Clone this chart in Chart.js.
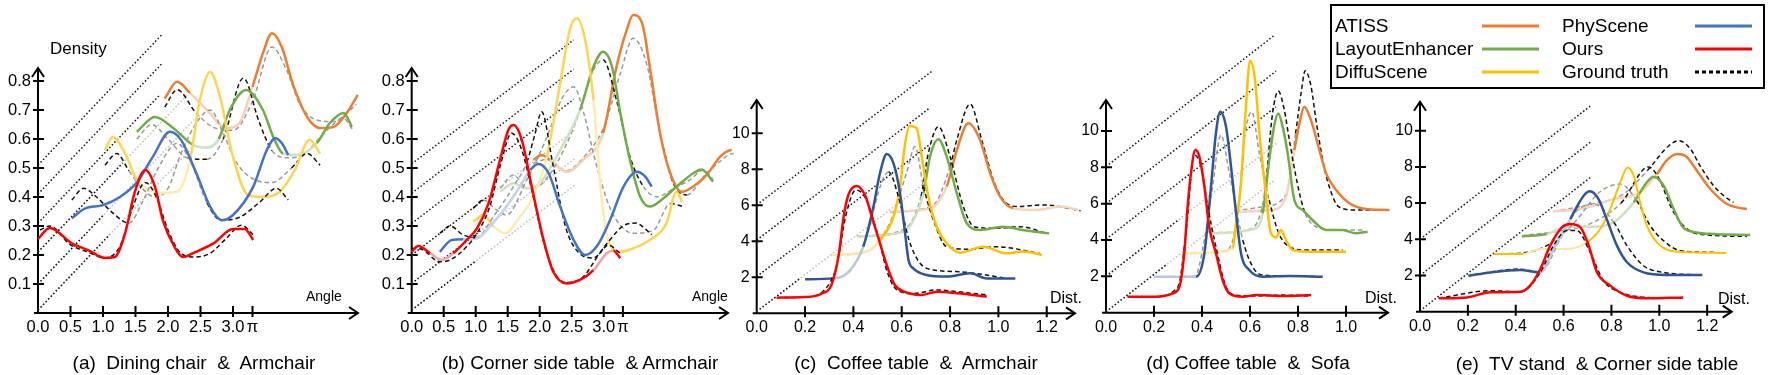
<!DOCTYPE html>
<html><head><meta charset="utf-8">
<script src="https://cdn.jsdelivr.net/npm/chart.js@4.4.1/dist/chart.umd.min.js"></script>
<style>
html,body{margin:0;padding:0;background:#fff;}
body{width:1771px;height:375px;position:relative;overflow:hidden;font-family:"Liberation Sans",Arial,Helvetica,sans-serif;color:#000;}
canvas{position:absolute;top:0;}
.t{position:absolute;white-space:pre;line-height:1;}
.title{font-size:19px;transform:translate(-50%,-50%);}
.lab{transform:translateY(-50%);}
#legend{position:absolute;left:1330px;top:4px;width:431px;height:81px;border:2px solid #000;box-sizing:content-box;}
.lt{position:absolute;font-size:19px;white-space:pre;line-height:1;transform:translateY(-50%);}
.ll{position:absolute;height:3px;transform:translateY(-50%);}
</style>
</head><body>
<script>
// ---------------- DATA ----------------
// tick values / labels
const abXTicks = [0, 0.5, 1, 1.5, 2, 2.5, 3, 3.3];
const abXLabels = ['0.0', '0.5', '1.0', '1.5', '2.0', '2.5', '3.0', 'π'];
const abYTicks = [0.1, 0.2, 0.3, 0.4, 0.5, 0.6, 0.7, 0.8];
const abYLabels = ['0.1', '0.2', '0.3', '0.4', '0.5', '0.6', '0.7', '0.8'];
const ceXTicks = [0, 0.2, 0.4, 0.6, 0.8, 1.0, 1.2];
const ceXLabels = ['0.0', '0.2', '0.4', '0.6', '0.8', '1.0', '1.2'];
const dXTicks = [0, 0.2, 0.4, 0.6, 0.8, 1.0];
const dXLabels = ['0.0', '0.2', '0.4', '0.6', '0.8', '1.0'];
const cdeYTicks = [2, 4, 6, 8, 10];
const cdeYLabels = ['2', '4', '6', '8', '10'];

const methods = ['Ours', 'PhyScene', 'DiffuScene', 'LayoutEnhancer', 'ATISS'];

// (a) Dining chair & Armchair  [angle, density]
const a_ours = [[0,0.255],[0.18,0.293],[0.52,0.24],[0.77,0.217],[1.03,0.19],[1.18,0.193],[1.34,0.275],[1.49,0.418],[1.65,0.493],[1.8,0.435],[1.92,0.32],[2.1,0.228],[2.23,0.193],[2.42,0.21],[2.7,0.24],[3.0,0.29],[3.18,0.29],[3.31,0.252]];
const a_oursGT = [[0.03,0.286],[0.18,0.3],[0.5,0.235],[0.77,0.21],[1.02,0.19],[1.26,0.23],[1.46,0.366],[1.65,0.45],[1.82,0.4],[2.0,0.286],[2.18,0.21],[2.39,0.193],[2.65,0.206],[2.9,0.258],[3.13,0.303],[3.31,0.27]];
const a_phy = [[0.52,0.327],[0.72,0.36],[1.0,0.372],[1.26,0.4],[1.52,0.45],[1.77,0.54],[2.03,0.625],[2.2,0.597],[2.44,0.48],[2.65,0.366],[2.83,0.32],[3.0,0.338],[3.31,0.435],[3.52,0.562],[3.65,0.603],[3.75,0.586],[3.85,0.545]];
const a_phyGT = [[0.52,0.39],[0.7,0.43],[0.9,0.4],[1.15,0.345],[1.4,0.31],[1.6,0.38],[1.85,0.5],[2.14,0.585],[2.35,0.52],[2.6,0.38],[2.82,0.32],[3.1,0.33],[3.4,0.38],[3.67,0.43],[3.85,0.39]];
const a_diffu = [[1.03,0.562],[1.15,0.607],[1.34,0.55],[1.52,0.458],[1.7,0.424],[1.88,0.414],[2.14,0.418],[2.34,0.528],[2.49,0.734],[2.65,0.831],[2.8,0.745],[3.0,0.538],[3.23,0.407],[3.46,0.4],[3.72,0.418],[3.95,0.493],[4.18,0.597],[4.34,0.55]];
const a_diffuGT = [[1.03,0.51],[1.21,0.55],[1.4,0.49],[1.6,0.43],[1.8,0.4],[2.0,0.43],[2.2,0.55],[2.45,0.66],[2.65,0.7],[2.85,0.62],[3.05,0.52],[3.33,0.46],[3.6,0.45],[3.9,0.5],[4.14,0.55],[4.34,0.51]];
const a_layout = [[1.52,0.625],[1.8,0.676],[2.08,0.638],[2.38,0.58],[2.6,0.57],[2.78,0.6],[2.95,0.7],[3.2,0.769],[3.46,0.7],[3.62,0.607],[3.77,0.55],[3.98,0.545],[4.29,0.586],[4.49,0.655],[4.7,0.69],[4.83,0.642]];
const a_layoutGT = [[1.52,0.6],[1.75,0.65],[2.0,0.6],[2.3,0.535],[2.6,0.53],[2.85,0.6],[3.16,0.81],[3.4,0.66],[3.6,0.56],[3.85,0.535],[4.1,0.55],[4.4,0.62],[4.7,0.67],[4.85,0.63]];
const a_atiss = [[1.95,0.74],[2.14,0.797],[2.34,0.758],[2.6,0.7],[2.9,0.638],[3.1,0.655],[3.3,0.78],[3.46,0.896],[3.6,0.965],[3.75,0.917],[3.92,0.79],[4.14,0.676],[4.34,0.638],[4.54,0.641],[4.75,0.69],[4.92,0.752]];
const a_atissGT = [[1.95,0.71],[2.14,0.77],[2.43,0.69],[2.7,0.64],[3.0,0.63],[3.3,0.73],[3.6,0.917],[3.82,0.84],[4.03,0.72],[4.28,0.666],[4.54,0.66],[4.8,0.7],[4.9,0.72]];
const a_floorStart = [0.01, 0.1, 0.21, 0.31, 0.41, 0.51];
const a_floorBlackEnd = [1.1, 1.0, 1.3, 1.88, 1.91, 1.91];
const a_floorGrayEnd = [2.4, 2.4, 2.3, 1.88, 1.91, 1.91];

// (b) Corner side table & Armchair
const b_ours = [[0,0.211],[0.1,0.231],[0.29,0.206],[0.47,0.183],[0.65,0.206],[0.86,0.252],[1.02,0.292],[1.2,0.378],[1.38,0.528],[1.51,0.631],[1.59,0.648],[1.72,0.597],[1.875,0.436],[2.06,0.252],[2.21,0.143],[2.42,0.102],[2.63,0.114],[2.84,0.148],[3.05,0.206],[3.15,0.215],[3.26,0.189]];
const b_oursGT = [[0,0.223],[0.15,0.22],[0.44,0.177],[0.6,0.183],[0.86,0.229],[1.02,0.275],[1.22,0.367],[1.38,0.505],[1.56,0.62],[1.72,0.562],[1.9,0.401],[2.08,0.229],[2.27,0.125],[2.42,0.105],[2.68,0.125],[2.94,0.206],[3.07,0.234],[3.26,0.206]];
const b_phy = [[0.44,0.211],[0.625,0.252],[0.81,0.254],[1.02,0.257],[1.22,0.298],[1.48,0.367],[1.69,0.436],[1.85,0.493],[1.98,0.514],[2.14,0.482],[2.32,0.367],[2.53,0.252],[2.71,0.2],[2.89,0.229],[3.1,0.321],[3.31,0.436],[3.52,0.487],[3.65,0.47],[3.75,0.436]];
const b_phyGT = [[0.44,0.275],[0.6,0.3],[0.8,0.27],[1.0,0.26],[1.3,0.34],[1.6,0.44],[1.8,0.52],[1.93,0.62],[2.03,0.694],[2.2,0.52],[2.4,0.3],[2.6,0.21],[2.84,0.19],[3.05,0.24],[3.3,0.3],[3.5,0.31],[3.65,0.29],[3.75,0.27]];
const b_diffu = [[0.96,0.315],[1.12,0.338],[1.28,0.298],[1.46,0.275],[1.69,0.332],[1.9,0.401],[2.11,0.539],[2.32,0.792],[2.47,0.976],[2.58,1.016],[2.71,0.941],[2.84,0.734],[2.97,0.39],[3.07,0.252],[3.26,0.211],[3.46,0.223],[3.72,0.252],[3.98,0.309],[4.14,0.418],[4.22,0.384]];
const b_diffuGT = [[0.96,0.361],[1.12,0.39],[1.3,0.36],[1.48,0.338],[1.8,0.46],[2.1,0.6],[2.35,0.74],[2.53,0.78],[2.7,0.68],[2.84,0.55],[3.05,0.39],[3.2,0.32],[3.46,0.275],[3.78,0.286],[4.04,0.378],[4.24,0.367]];
const b_layout = [[1.38,0.418],[1.59,0.447],[1.8,0.43],[2.0,0.447],[2.32,0.562],[2.63,0.7],[2.84,0.849],[2.99,0.901],[3.13,0.849],[3.26,0.69],[3.41,0.528],[3.57,0.401],[3.72,0.367],[3.93,0.395],[4.14,0.436],[4.4,0.482],[4.53,0.495],[4.71,0.453]];
const b_layoutGT = [[1.38,0.43],[1.59,0.476],[1.8,0.43],[2.0,0.44],[2.3,0.53],[2.6,0.68],[2.8,0.82],[2.99,0.873],[3.2,0.734],[3.41,0.54],[3.62,0.436],[3.83,0.401],[4.1,0.43],[4.35,0.46],[4.56,0.493],[4.71,0.46]];
const b_atiss = [[1.9,0.528],[2.03,0.545],[2.16,0.528],[2.42,0.487],[2.68,0.528],[2.99,0.62],[3.2,0.849],[3.36,0.976],[3.46,1.028],[3.6,0.999],[3.72,0.849],[3.88,0.62],[4.04,0.482],[4.22,0.418],[4.4,0.436],[4.61,0.476],[4.82,0.539],[5.0,0.562],[5.16,0.533]];
const b_atissGT = [[1.9,0.516],[2.1,0.53],[2.4,0.49],[2.7,0.54],[3.0,0.64],[3.26,0.826],[3.46,0.947],[3.67,0.86],[3.88,0.62],[4.09,0.447],[4.3,0.407],[4.56,0.47],[4.8,0.52],[5.03,0.55],[5.15,0.52]];
const b_floorStart = [0.01, 0.102, 0.2, 0.309, 0.413, 0.514];
const b_floorBlackEnd = [1.0, 1.1, 1.2, 2.53, 2.53, 2.53];
const b_floorGrayEnd = [2.55, 2.55, 2.55, 2.53, 2.53, 2.53];

// (c) Coffee table & Armchair  [distance, density]
const c_ours = [[0.083,0.87],[0.2,0.9],[0.27,1.1],[0.31,1.6],[0.34,3.3],[0.36,5.4],[0.38,6.6],[0.414,7.07],[0.45,6.5],[0.48,5.2],[0.51,3.9],[0.54,2.6],[0.57,1.6],[0.61,1.2],[0.68,1.02],[0.745,1.2],[0.83,1.11],[0.952,0.93]];
const c_oursGT = [[0.083,0.87],[0.2,0.9],[0.28,1.3],[0.33,2.6],[0.37,5.5],[0.41,6.85],[0.45,6.4],[0.5,4.4],[0.54,2.3],[0.58,1.3],[0.65,1.1],[0.745,1.3],[0.83,1.2],[0.952,1.02]];
const c_phy = [[0.2,1.89],[0.317,1.94],[0.38,2.3],[0.441,3.7],[0.483,5.93],[0.51,7.78],[0.538,8.85],[0.566,8.33],[0.593,6.67],[0.614,4.44],[0.628,2.96],[0.648,2.5],[0.703,2.13],[0.786,2.04],[0.883,2.22],[0.952,1.94],[1.07,1.94]];
const c_phyGT = [[0.2,1.89],[0.32,1.94],[0.4,2.6],[0.46,4.5],[0.51,7.0],[0.545,7.87],[0.59,6.3],[0.63,4.07],[0.676,2.78],[0.73,2.41],[0.84,2.31],[0.95,2.13],[1.034,1.94]];
const c_diffu = [[0.31,3.24],[0.455,3.43],[0.51,4.07],[0.566,5.37],[0.593,7.04],[0.614,9.44],[0.634,10.41],[0.662,10.28],[0.683,8.7],[0.71,6.48],[0.745,4.81],[0.786,3.89],[0.841,3.37],[0.938,3.7],[1.034,3.33],[1.1,3.43],[1.18,3.24]];
const c_diffuGT = [[0.31,3.24],[0.45,3.4],[0.55,5.0],[0.62,7.8],[0.655,9.26],[0.69,7.04],[0.731,5.19],[0.786,3.7],[0.883,3.56],[0.99,3.7],[1.17,3.33]];
const c_layout = [[0.414,4.26],[0.607,4.54],[0.65,5.2],[0.69,6.67],[0.717,8.7],[0.752,9.67],[0.786,8.7],[0.828,6.67],[0.869,5.0],[0.924,4.63],[1.02,4.81],[1.1,4.63],[1.21,4.44]];
const c_layoutGT = [[0.414,4.3],[0.6,4.6],[0.68,6.5],[0.71,8.89],[0.752,10.37],[0.8,8.7],[0.855,5.93],[0.9,4.81],[0.99,4.72],[1.09,4.81],[1.2,4.44]];
const c_atiss = [[0.552,5.65],[0.717,5.83],[0.786,7.04],[0.828,9.07],[0.876,10.56],[0.924,9.63],[0.966,7.78],[1.007,6.48],[1.062,5.83],[1.16,5.74],[1.255,5.93],[1.33,5.74]];
const c_atissGT = [[0.552,5.6],[0.73,6.02],[0.8,8.15],[0.828,9.63],[0.883,11.63],[0.931,9.63],[0.979,7.41],[1.02,6.3],[1.076,5.93],[1.186,6.02],[1.34,5.7]];
const c_floorStart = [0.1, 2.04, 4.07, 6.02];
const c_floorBlackEnd = [0.18, 0.717, 0.717, 0.724];
const c_floorGrayEnd = [0.7, 0.717, 0.717, 0.724];

// (d) Coffee table & Sofa
const d_ours = [[0.09,0.88],[0.208,0.88],[0.278,1.06],[0.306,1.43],[0.326,3.27],[0.34,5.83],[0.354,7.67],[0.372,8.95],[0.389,8.59],[0.41,6.94],[0.43,4.73],[0.458,3.27],[0.486,1.8],[0.514,1.06],[0.57,0.88],[0.625,0.97],[0.736,0.92],[0.854,0.97]];
const d_oursGT = [[0.09,0.88],[0.2,0.88],[0.3,1.43],[0.333,4.37],[0.368,8.68],[0.396,8.04],[0.424,5.83],[0.458,3.63],[0.5,1.43],[0.54,0.97],[0.62,0.92],[0.74,0.97],[0.854,0.92]];
const d_phy = [[0.201,1.98],[0.375,1.98],[0.41,3.27],[0.4375,6.94],[0.458,9.87],[0.476,11.06],[0.5,10.24],[0.521,8.04],[0.542,5.47],[0.5625,3.27],[0.597,2.35],[0.653,1.98],[0.764,2.02],[0.903,1.98]];
const d_phyGT = [[0.201,1.98],[0.37,2.0],[0.41,4.0],[0.444,6.94],[0.479,9.78],[0.514,7.67],[0.57,4.0],[0.611,2.53],[0.653,2.07],[0.76,2.02],[0.889,1.98]];
const d_diffu = [[0.326,3.27],[0.43,3.3],[0.528,3.54],[0.54,4.73],[0.5625,7.12],[0.583,11.34],[0.6,13.87],[0.621,12.8],[0.639,9.87],[0.66,7.3],[0.6875,4.37],[0.708,4.15],[0.729,4.55],[0.75,4.0],[0.778,3.45],[0.847,3.36],[1.0,3.36]];
const d_diffuGT = [[0.326,3.27],[0.5,3.4],[0.55,5.5],[0.576,9.5],[0.607,11.06],[0.639,8.77],[0.68,6.2],[0.72,4.37],[0.764,3.63],[0.83,3.45],[0.986,3.45]];
const d_layout = [[0.4375,4.37],[0.625,4.64],[0.653,5.47],[0.68,8.4],[0.7,10.24],[0.718,10.97],[0.736,10.24],[0.757,8.77],[0.785,6.2],[0.82,5.65],[0.86,5.1],[0.917,4.55],[0.986,4.55],[1.04,4.37],[1.09,4.46]];
const d_layoutGT = [[0.4375,4.4],[0.6,4.6],[0.66,6.5],[0.694,10.97],[0.718,12.2],[0.743,11.15],[0.764,9.5],[0.8,6.94],[0.83,5.47],[0.875,4.73],[0.958,4.55],[1.08,4.55]];
const d_atiss = [[0.54,5.56],[0.6875,5.65],[0.75,6.39],[0.785,8.95],[0.806,10.42],[0.826,11.34],[0.854,10.6],[0.889,8.95],[0.917,7.67],[0.958,6.76],[1.014,6.02],[1.07,5.74],[1.18,5.65]];
const d_atissGT = [[0.54,5.6],[0.653,5.83],[0.75,6.5],[0.79,9.87],[0.813,12.1],[0.83,13.32],[0.854,12.47],[0.875,10.6],[0.903,8.4],[0.93,6.94],[0.97,5.83],[1.04,5.65],[1.18,5.65]];
const d_floorStart = [0.05, 2.0, 4.04, 6.0, 8.04];
const d_floorBlackEnd = [0.25, 0.3, 0.708, 0.708, 0.701];
const d_floorGrayEnd = [0.7, 0.71, 0.708, 0.708, 0.701];

// (e) TV stand & Corner side table
const e_ours = [[0.078,0.74],[0.196,0.79],[0.294,1.07],[0.419,1.1],[0.46,1.44],[0.503,2.36],[0.544,3.65],[0.593,4.66],[0.628,4.84],[0.67,4.66],[0.705,3.65],[0.74,2.17],[0.795,1.44],[0.865,0.88],[0.948,0.74],[1.1,0.79]];
const e_oursGT = [[0.078,0.74],[0.294,1.16],[0.419,1.1],[0.503,2.17],[0.558,3.65],[0.614,4.48],[0.656,4.48],[0.711,3.28],[0.767,1.71],[0.837,1.07],[0.948,0.79],[1.1,0.74]];
const e_phy = [[0.203,1.99],[0.294,2.17],[0.419,2.3],[0.503,2.17],[0.56,3.5],[0.628,5.12],[0.684,6.41],[0.71,6.65],[0.746,6.22],[0.78,5.12],[0.823,3.65],[0.865,2.73],[0.934,2.17],[1.03,2.03],[1.18,2.03]];
const e_phyGT = [[0.203,1.99],[0.419,2.36],[0.503,2.2],[0.586,4.01],[0.65,5.5],[0.726,5.95],[0.81,4.94],[0.865,3.65],[0.934,2.54],[1.018,2.17],[1.17,2.03]];
const e_diffu = [[0.308,3.19],[0.433,3.19],[0.503,3.46],[0.614,3.46],[0.698,3.83],[0.753,4.57],[0.795,5.67],[0.837,7.15],[0.868,7.97],[0.893,7.51],[0.92,6.04],[0.948,4.75],[0.99,3.83],[1.046,3.37],[1.13,3.28],[1.28,3.24]];
const e_diffuGT = [[0.308,3.19],[0.433,3.25],[0.55,3.8],[0.65,5.0],[0.75,6.6],[0.837,7.05],[0.906,6.13],[0.962,4.75],[1.018,3.92],[1.088,3.37],[1.227,3.28]];
const e_layout = [[0.426,4.16],[0.53,4.29],[0.614,4.7],[0.726,4.7],[0.81,4.94],[0.893,6.04],[0.948,7.15],[0.976,7.46],[1.018,6.96],[1.06,5.67],[1.1,4.66],[1.157,4.38],[1.227,4.29],[1.38,4.24]];
const e_layoutGT = [[0.426,4.2],[0.55,4.4],[0.7,4.8],[0.84,6.0],[0.955,8.0],[1.0,7.33],[1.046,5.86],[1.088,4.94],[1.16,4.3],[1.366,4.16]];
const e_atiss = [[0.558,5.54],[0.67,5.67],[0.81,6.22],[0.92,6.59],[0.99,7.6],[1.03,8.34],[1.074,8.71],[1.11,8.6],[1.157,7.79],[1.213,6.78],[1.283,5.95],[1.366,5.67],[1.457,5.58]];
const e_atissGT = [[0.558,5.54],[0.7,5.9],[0.85,6.5],[0.95,7.8],[1.04,9.17],[1.08,9.45],[1.13,9.0],[1.17,8.07],[1.227,6.96],[1.31,6.04],[1.457,5.58]];
const e_floorStart = [0.05, 2.0, 4.0];
const e_floorBlackEnd = [0.712, 0.712, 0.712];
const e_floorGrayEnd = [0.712, 0.712, 0.712];

// ---------------- STYLE ----------------
Chart.defaults.font.family = '"Liberation Sans", Arial, Helvetica, sans-serif';
Chart.defaults.color = '#000';

const colAB = {Ours:'#FF0000', PhyScene:'#4472C4', DiffuScene:'#FFD54F', LayoutEnhancer:'#70AD47', ATISS:'#ED7D31'};
const paleAB = {Ours:'#F5A3A3', PhyScene:'#C3D3EE', DiffuScene:'#FFEBB0', LayoutEnhancer:'#CDE3BF', ATISS:'#F8CFB3'};
const colCDE = {Ours:'#FF0000', PhyScene:'#2F5597', DiffuScene:'#FFC000', LayoutEnhancer:'#70AD47', ATISS:'#ED7D31'};
const paleCDE = {Ours:'#F5A3A3', PhyScene:'#B9C7E0', DiffuScene:'#FFE8A3', LayoutEnhancer:'#CDE3BF', ATISS:'#F8D3BA'};
const GRAY = '#9a9a9a';

function inR(v, rs){ return rs.some(r => v >= r[0] && v <= r[1]); }
function pts(arr){ return arr.map(p => ({x:p[0], y:p[1]})); }

function curveDS(arr, col, pale, fades, w){
  return {data: pts(arr), borderColor: col, borderWidth: w, pointRadius: 0, fill: false, clip: false,
    cubicInterpolationMode: 'monotone',
    segment: {borderColor: c => inR((c.p0.parsed.x + c.p1.parsed.x)/2, fades) ? pale : col}};
}
function gtDS(arr, blacks){
  return {data: pts(arr), borderColor: '#000', borderWidth: 1.5, borderDash: [4.5, 3], pointRadius: 0, fill: false, clip: false,
    cubicInterpolationMode: 'monotone',
    segment: {borderColor: c => inR((c.p0.parsed.x + c.p1.parsed.x)/2, blacks) ? '#111' : GRAY}};
}
function floorDS(y0, x1, slope, col){
  return {data: [{x:0, y:y0}, {x:x1, y:y0 + slope*x1}], borderColor: col, borderWidth: 1.5, borderDash: [1.5, 2.2],
    pointRadius: 0, fill: false, clip: false, tension: 0};
}

const axesPlugin = {
  id: 'axesArrows',
  beforeDatasetsDraw(chart){
    const {ctx, chartArea: ca, scales: {x, y}} = chart;
    ctx.save();
    ctx.strokeStyle = '#000'; ctx.lineWidth = 2; ctx.lineCap = 'butt';
    ctx.beginPath();
    ctx.moveTo(ca.left - 4, ca.bottom); ctx.lineTo(ca.right, ca.bottom);
    ctx.moveTo(ca.left, ca.bottom + 1); ctx.lineTo(ca.left, ca.top);
    ctx.stroke();
    ctx.beginPath();
    ctx.moveTo(ca.right - 9, ca.bottom - 6); ctx.lineTo(ca.right, ca.bottom); ctx.lineTo(ca.right - 9, ca.bottom + 6);
    ctx.moveTo(ca.left - 6, ca.top + 9); ctx.lineTo(ca.left, ca.top); ctx.lineTo(ca.left + 6, ca.top + 9);
    ctx.stroke();
    ctx.beginPath();
    x.ticks.forEach(t => { const px = x.getPixelForValue(t.value); if (px > ca.left + 2) { ctx.moveTo(px, ca.bottom - 7); ctx.lineTo(px, ca.bottom + 4); } });
    y.ticks.forEach(t => { const py = y.getPixelForValue(t.value); ctx.moveTo(ca.left - 5, py); ctx.lineTo(ca.left + 6, py); });
    ctx.stroke();
    ctx.restore();
  }
};

const panels = [
  {cl:0, cw:372, axisX:38, axisY:313, xu:65, yu:290, arrowEnd:358, arrowTop:68, fs:16.5, xpad:5,
   xt:abXTicks, xl:abXLabels, yt:abYTicks, yl:abYLabels, col:colAB, pale:paleAB, lw:2.5, slope:0.236,
   floor:[a_floorStart, a_floorBlackEnd, a_floorGrayEnd],
   series:[
     {m:'Ours', d:a_ours, fade:[], gt:a_oursGT, black:[[0,5]]},
     {m:'PhyScene', d:a_phy, fade:[], gt:a_phyGT, black:[[0,1.4],[2.7,4]]},
     {m:'DiffuScene', d:a_diffu, fade:[[1.6,2.3]], gt:a_diffuGT, black:[[1,1.45],[3.9,4.4]]},
     {m:'LayoutEnhancer', d:a_layout, fade:[[2.3,2.85],[3.72,4.15]], gt:a_layoutGT, black:[[2.2,2.7],[2.9,3.62]]},
     {m:'ATISS', d:a_atiss, fade:[[2.45,3.2]], gt:a_atissGT, black:[[1.9,2.3]]}
   ]},
  {cl:340, cw:420, axisX:411.7, axisY:313, xu:64, yu:290, arrowEnd:728, arrowTop:68, fs:16.5, xpad:5,
   xt:abXTicks, xl:abXLabels, yt:abYTicks, yl:abYLabels, col:colAB, pale:paleAB, lw:2.5, slope:0.169,
   floor:[b_floorStart, b_floorBlackEnd, b_floorGrayEnd],
   series:[
     {m:'Ours', d:b_ours, fade:[[0.3,0.56],[2.88,3.1]], gt:b_oursGT, black:[[0,5]]},
     {m:'PhyScene', d:b_phy, fade:[[0.9,1.8]], gt:b_phyGT, black:[[0.4,0.9],[1.85,3.8]]},
     {m:'DiffuScene', d:b_diffu, fade:[[1.25,2.05],[2.9,3.05]], gt:b_diffuGT, black:[[0.9,1.2],[3.95,4.3]]},
     {m:'LayoutEnhancer', d:b_layout, fade:[[1.3,2.72]], gt:b_layoutGT, black:[[2.95,3.6]]},
     {m:'ATISS', d:b_atiss, fade:[[2.2,3.05]], gt:b_atissGT, black:[[3.9,4.3]]}
   ]},
  {cl:700, cw:400, axisX:756.7, axisY:313.3, xu:241.7, yu:18, arrowEnd:1075, arrowTop:100, fs:16, xpad:5,
   xt:ceXTicks, xl:ceXLabels, yt:cdeYTicks, yl:cdeYLabels, col:colCDE, pale:paleCDE, lw:2.5, slope:10.25,
   floor:[c_floorStart, c_floorBlackEnd, c_floorGrayEnd],
   series:[
     {m:'Ours', d:c_ours, fade:[], gt:c_oursGT, black:[[0,2]]},
     {m:'PhyScene', d:c_phy, fade:[[0.3,0.45]], gt:c_phyGT, black:[[0.56,2]]},
     {m:'DiffuScene', d:c_diffu, fade:[[0.32,0.5]], gt:c_diffuGT, black:[[0.7,2]]},
     {m:'LayoutEnhancer', d:c_layout, fade:[[0.41,0.69]], gt:c_layoutGT, black:[[0.68,2]]},
     {m:'ATISS', d:c_atiss, fade:[[0.55,0.8],[1.05,1.3]], gt:c_atissGT, black:[[0.8,2]]}
   ]},
  {cl:1060, cw:360, axisX:1106, axisY:312.7, xu:240, yu:18.17, arrowEnd:1388, arrowTop:100, fs:16, xpad:5,
   xt:dXTicks, xl:dXLabels, yt:cdeYTicks, yl:cdeYLabels, col:colCDE, pale:paleCDE, lw:2.5, slope:10.3,
   floor:[d_floorStart, d_floorBlackEnd, d_floorGrayEnd],
   series:[
     {m:'Ours', d:d_ours, fade:[], gt:d_oursGT, black:[[0,2]]},
     {m:'PhyScene', d:d_phy, fade:[[0.28,0.39]], gt:d_phyGT, black:[[0.55,2]]},
     {m:'DiffuScene', d:d_diffu, fade:[[0.33,0.53]], gt:d_diffuGT, black:[[0.68,2]]},
     {m:'LayoutEnhancer', d:d_layout, fade:[[0.44,0.64]], gt:d_layoutGT, black:[[0.66,0.82]]},
     {m:'ATISS', d:d_atiss, fade:[[0.54,0.77]], gt:d_atissGT, black:[[0.78,2]]}
   ]},
  {cl:1370, cw:401, axisX:1420, axisY:311.7, xu:239.3, yu:18.1, arrowEnd:1731.7, arrowTop:101.7, fs:16, xpad:5,
   xt:ceXTicks, xl:ceXLabels, yt:cdeYTicks, yl:cdeYLabels, col:colCDE, pale:paleCDE, lw:2.5, slope:10.35,
   floor:[e_floorStart, e_floorBlackEnd, e_floorGrayEnd],
   series:[
     {m:'Ours', d:e_ours, fade:[], gt:e_oursGT, black:[[0,2]]},
     {m:'PhyScene', d:e_phy, fade:[[0.5,0.62]], gt:e_phyGT, black:[[0.2,0.45],[0.78,2]]},
     {m:'DiffuScene', d:e_diffu, fade:[[0.44,0.72]], gt:e_diffuGT, black:[[0.3,0.5],[0.88,2]]},
     {m:'LayoutEnhancer', d:e_layout, fade:[[0.55,0.88]], gt:e_layoutGT, black:[[0.88,2]]},
     {m:'ATISS', d:e_atiss, fade:[[0.6,0.97]], gt:e_atissGT, black:[[0.98,2]]}
   ]}
];

const YW = 40, XH = 32;
panels.forEach(p => {
  const cv = document.createElement('canvas');
  cv.width = p.cw; cv.height = 375;
  cv.style.left = p.cl + 'px'; cv.style.width = p.cw + 'px'; cv.style.height = '375px';
  document.body.appendChild(cv);
  const xmax = (p.arrowEnd - p.axisX) / p.xu;
  const ymax = (p.axisY - p.arrowTop) / p.yu;
  const ds = [];
  p.series.forEach(s => {
    ds.push(curveDS(s.d, p.col[s.m], p.pale[s.m], s.fade, (p.cl > 1300 && s.m === 'DiffuScene') ? 2 : p.lw));
    ds.push(gtDS(s.gt, s.black));
  });
  const [fs0, fb, fg] = p.floor;
  fs0.forEach((y0, i) => {
    ds.push(floorDS(y0, fb[i], p.slope, '#111'));
    if (fg[i] > fb[i]) ds.push(floorDS(y0, fg[i], p.slope, '#bdbdbd'));
  });
  new Chart(cv, {
    type: 'line',
    data: {datasets: ds},
    options: {
      responsive: false, animation: false, events: [],
      layout: {padding: {left: p.axisX - p.cl - YW, right: p.cl + p.cw - p.arrowEnd, top: p.arrowTop, bottom: 375 - p.axisY - XH}},
      plugins: {legend: {display: false}, tooltip: {enabled: false}, title: {display: false}},
      scales: {
        x: {type: 'linear', min: 0, max: xmax, grid: {display: false, drawTicks: false}, border: {display: false},
            afterBuildTicks: sc => { sc.ticks = p.xt.map(v => ({value: v})); },
            afterFit: sc => { sc.height = XH; },
            ticks: {autoSkip: false, maxRotation: 0, padding: p.xpad, font: {size: p.fs}, color: '#000',
                    callback: (v, i) => p.xl[i]}},
        y: {type: 'linear', min: 0, max: ymax, grid: {display: false, drawTicks: false}, border: {display: false},
            afterBuildTicks: sc => { sc.ticks = p.yt.map(v => ({value: v})); },
            afterFit: sc => { sc.width = YW; },
            ticks: {autoSkip: false, padding: 7, font: {size: p.fs}, color: '#000',
                    callback: (v, i) => p.yl[i]}}
      }
    },
    plugins: [axesPlugin]
  });
});

// ---------------- TEXT ----------------
function addText(cls, txt, x, y, fs){
  const d = document.createElement('div');
  d.className = 't ' + cls; d.textContent = txt;
  d.style.left = x + 'px'; d.style.top = y + 'px';
  if (fs) d.style.fontSize = fs + 'px';
  document.body.appendChild(d);
}
addText('title', '(a)  Dining chair  &  Armchair', 194, 362);
addText('title', '(b) Corner side table  & Armchair', 580, 362);
addText('title', '(c)  Coffee table  &  Armchair', 916, 362);
addText('title', '(d) Coffee table  &  Sofa', 1248, 362);
addText('title', '(e)  TV stand  & Corner side table', 1597, 363);
addText('lab', 'Density', 50, 48, 17);
addText('lab', 'Angle', 306, 296, 14);
addText('lab', 'Angle', 692, 296, 14);
addText('lab', 'Dist.', 1050, 298, 16);
addText('lab', 'Dist.', 1365, 298, 16);
addText('lab', 'Dist.', 1718, 299, 16);

// legend
const leg = document.createElement('div'); leg.id = 'legend'; document.body.appendChild(leg);
const legendEntries = [
  {m:'ATISS', c:'#ED7D31', col:0, row:0}, {m:'LayoutEnhancer', c:'#70AD47', col:0, row:1}, {m:'DiffuScene', c:'#FFC000', col:0, row:2},
  {m:'PhyScene', c:'#4472C4', col:1, row:0}, {m:'Ours', c:'#FF0000', col:1, row:1}, {m:'Ground truth', c:null, col:1, row:2}
];
legendEntries.forEach(e => {
  const cy = [19, 42, 65][e.row];
  const t = document.createElement('div'); t.className = 'lt'; t.textContent = e.m;
  t.style.left = (e.col ? 230 : 3) + 'px'; t.style.top = cy + 'px'; leg.appendChild(t);
  const l = document.createElement('div'); l.className = 'll';
  l.style.left = (e.col ? 363 : 150) + 'px'; l.style.width = '57px'; l.style.top = (cy + 1) + 'px';
  l.style.background = e.c ? e.c : 'repeating-linear-gradient(90deg,#000 0 4px,transparent 4px 7px)';
  leg.appendChild(l);
});
</script>
</body></html>
